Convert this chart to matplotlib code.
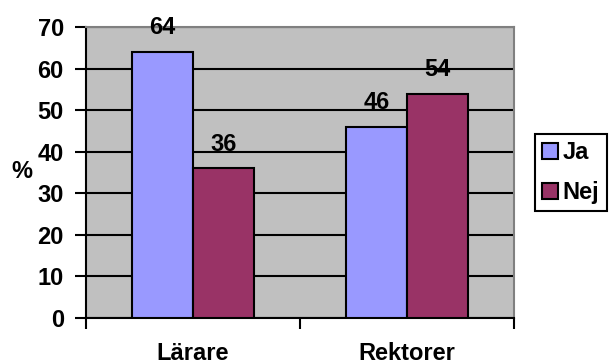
import numpy as np
import matplotlib.pyplot as plt

plt.rcParams['font.family'] = ['Liberation Sans', 'DejaVu Sans']
plt.rcParams['font.weight'] = 'bold'

# Andel svar per grupp
kategorier = ['Lärare', 'Rektorer']
serier = ['Ja', 'Nej']
ja = [64, 46]
nej = [36, 54]
farger = ['#9999FF', '#993366']

fs = 17

fig = plt.figure(figsize=(6.09, 3.64), dpi=100)
ax = fig.add_axes([86 / 609, 1 - 318 / 364, 428 / 609, 291 / 364])
ax.set_facecolor('#C0C0C0')

x = np.arange(len(kategorier))
w = 0.283
for i, (namn, varden) in enumerate(zip(serier, [ja, nej])):
    b = ax.bar(x + (i - 0.5) * w, varden, w, color=farger[i], edgecolor='black',
               linewidth=1.5, label=namn, zorder=3)
    ax.bar_label(b, padding=9, fontsize=fs, fontweight='bold')

ax.set_xlim(-0.5, 1.5)
ax.set_ylim(0, 70)
ax.set_yticks(range(0, 71, 10))
ax.yaxis.grid(True, color='black', linewidth=1.5, zorder=1)
ax.set_axisbelow(True)

ax.set_xticks([-0.5, 0.5, 1.5])
ax.set_xticklabels([])
ax.set_xticks(x, minor=True)
ax.set_xticklabels(kategorier, minor=True)
ax.tick_params(axis='x', which='minor', length=0, pad=17, labelsize=fs)
ax.tick_params(axis='x', which='major', length=8, width=1.5, direction='out')
ax.tick_params(axis='y', length=8, width=1.5, pad=8, labelsize=fs)

for s in ['left', 'bottom']:
    ax.spines[s].set_color('black')
    ax.spines[s].set_linewidth(1.5)
for s in ['top', 'right']:
    ax.spines[s].set_color('#808080')
    ax.spines[s].set_linewidth(1.5)

fig.text(22 / 609, 1 - 172 / 364, '%', fontsize=fs, fontweight='bold',
         ha='center', va='center')

leg = ax.legend(loc='upper left', bbox_to_anchor=(535 / 609, 1 - 134 / 364),
                bbox_transform=fig.transFigure, fancybox=False, framealpha=1,
                edgecolor='black', fontsize=fs, handlelength=0.68, handleheight=0.68,
                handletextpad=0.2, labelspacing=0.72, borderpad=0.3,
                borderaxespad=0)
leg.get_frame().set_linewidth(1.5)

fig.savefig('out.png', dpi=100, facecolor='white')
